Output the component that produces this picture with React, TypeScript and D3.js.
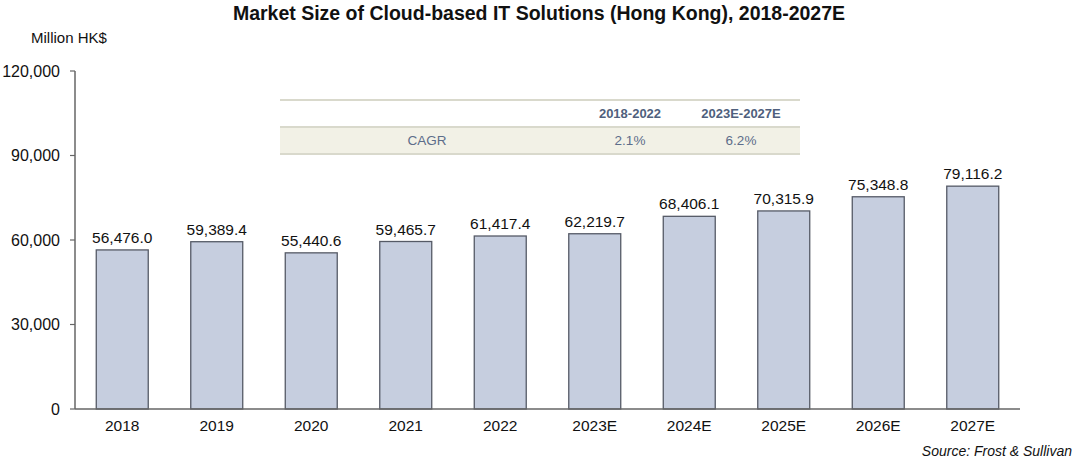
import React from "react";
import * as d3 from "d3";

const categories = ["2018", "2019", "2020", "2021", "2022", "2023E", "2024E", "2025E", "2026E", "2027E"];
const values = [56476.0, 59389.4, 55440.6, 59465.7, 61417.4, 62219.7, 68406.1, 70315.9, 75348.8, 79116.2];
const yTicks = [0, 30000, 60000, 90000, 120000];
const cagrPeriods = ["2018-2022", "2023E-2027E"];
const cagrValues = ["2.1%", "6.2%"];

const W = 1080, H = 460;
const left = 75, right = 1020, top = 71, bottom = 409;

export default function App() {
  const x = d3.scaleBand<string>().domain(categories).range([left, right]).paddingInner(0.45).paddingOuter(0.225);
  const y = d3.scaleLinear().domain([0, 120000]).range([bottom, top]);
  const fmtTick = d3.format(",");
  const fmtVal = (v: number) => d3.format(",.1f")(v);
  const font = "'Liberation Sans', Arial, sans-serif";

  return (
    <svg width={W} height={H} style={{ position: "absolute", left: 0, top: 0 }} fontFamily={font}>
      <rect width={W} height={H} fill="#fff" />
      <text x={539} y={20} textAnchor="middle" fontWeight="bold" fontSize={19.5} fill="#111">
        Market Size of Cloud-based IT Solutions (Hong Kong), 2018-2027E
      </text>
      <text x={31} y={43} fontSize={15} fill="#111">Million HK$</text>

      {/* CAGR table */}
      <rect x={280} y={127} width={520} height={27} fill="#f2f1e6" />
      <line x1={280} x2={800} y1={100} y2={100} stroke="#d9d9cc" strokeWidth={2} />
      <line x1={280} x2={800} y1={127} y2={127} stroke="#d9d9cc" strokeWidth={2} />
      <line x1={280} x2={800} y1={154} y2={154} stroke="#d9d9cc" strokeWidth={2} />
      {cagrPeriods.map((p, i) => (
        <text key={p} x={[630, 741][i]} y={118} textAnchor="middle" fontSize={13} fontWeight="bold" fill="#4f5f7d">{p}</text>
      ))}
      <text x={427} y={145} textAnchor="middle" fontSize={13.5} fill="#5d6d8a">CAGR</text>
      {cagrValues.map((v, i) => (
        <text key={v} x={[630, 741][i]} y={145} textAnchor="middle" fontSize={13.5} fill="#5d6d8a">{v}</text>
      ))}

      {/* y axis */}
      <line x1={left} x2={left} y1={top} y2={bottom} stroke="#666" strokeWidth={1.5} />
      {yTicks.map((t) => (
        <g key={t}>
          <line x1={left - 5} x2={left} y1={y(t)} y2={y(t)} stroke="#666" strokeWidth={1.2} />
          <text x={60} y={y(t) + 5.5} textAnchor="end" fontSize={16} fill="#111">{fmtTick(t)}</text>
        </g>
      ))}

      {/* bars */}
      {categories.map((c, i) => (
        <g key={c}>
          <rect x={x(c)!} y={y(values[i])} width={x.bandwidth()} height={bottom - y(values[i])} fill="#c6cedf" stroke="#555a66" strokeWidth={1.3} />
          <text x={x(c)! + x.bandwidth() / 2} y={y(values[i]) - 7} textAnchor="middle" fontSize={15.5} fill="#111">{fmtVal(values[i])}</text>
          <text x={x(c)! + x.bandwidth() / 2} y={431} textAnchor="middle" fontSize={15.5} fill="#111">{c}</text>
        </g>
      ))}
      <line x1={left} x2={right} y1={bottom} y2={bottom} stroke="#666" strokeWidth={1.5} />

      <text x={1072} y={456} textAnchor="end" fontSize={14} fontStyle="italic" fill="#111">Source: Frost &amp; Sullivan</text>
    </svg>
  );
}
